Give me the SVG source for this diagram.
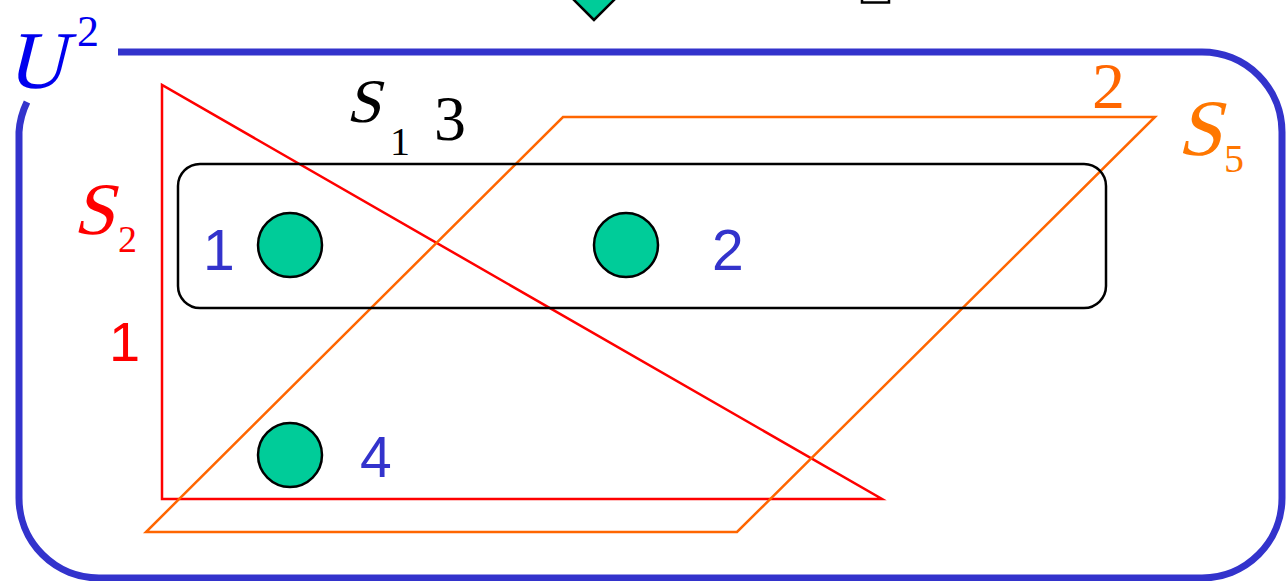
<svg xmlns="http://www.w3.org/2000/svg" width="1286" height="581" viewBox="0 0 1286 581">
<style>
.mi{font-family:"Liberation Serif","Times New Roman",serif;font-style:normal}
.rm{font-family:"Liberation Serif","Times New Roman",serif}
.num{font-family:"Liberation Sans",Arial,sans-serif;font-size:57px;fill:#3333cc}
.dot{fill:#00cc99;stroke:#000;stroke-width:2.5}
</style>
<rect width="1286" height="581" fill="#fff"/>
<g id="top-diamond"><polygon points="594,20 566,-8 594,-36 622,-8" fill="#00cc99" stroke="#000" stroke-width="2.5"/></g>
<g id="top-fragment"><path d="M862 0 V2.5 H889 V0" fill="none" stroke="#000" stroke-width="2.5"/></g>
<g id="U2">
<path d="M118 52 H1202 A80 80 0 0 1 1282 132 V498 A80 80 0 0 1 1202 578 H99 A80 80 0 0 1 19 498 V132 A80 80 0 0 1 27 102" fill="none" stroke="#3333cc" stroke-width="7"/>
<text class="mi" transform="translate(6,88) skewX(-14)" font-size="82" fill="#0000ee">U</text>
<text class="rm" x="77" y="46" font-size="44" fill="#0000ee">2</text>
</g>
<g id="S2">
<polygon points="162,85 162,499 882,499" fill="none" stroke="#ff0000" stroke-width="2.5"/>
<text class="mi" transform="translate(73,234) skewX(-14)" font-size="74" fill="#ff0000">S</text>
<text class="rm" x="118" y="252" font-size="38" fill="#ff0000">2</text>
<text x="109" y="361" font-family="Liberation Sans,Arial,sans-serif" font-size="56" fill="#ff0000">1</text>
</g>
<g id="S5">
<polygon points="563,117 1155,117 737,532 146,532" fill="none" stroke="#ff6600" stroke-width="2.5"/>
<text class="mi" transform="translate(1177,155) skewX(-14)" font-size="80" fill="#ff7700">S</text>
<text class="rm" x="1224" y="172" font-size="40" fill="#ff7700">5</text>
<text class="rm" x="1092" y="108" font-size="66" fill="#ff6600">2</text>
</g>
<g id="S1">
<rect x="178" y="164" width="928" height="144" rx="22" fill="none" stroke="#000" stroke-width="2.5"/>
<text class="mi" transform="translate(346,122) skewX(-14)" font-size="62" fill="#000">S</text>
<text class="rm" x="390" y="155" font-size="40" fill="#000">1</text>
<text class="rm" x="434" y="140" font-size="64" fill="#000">3</text>
</g>
<g id="v1"><circle class="dot" cx="290" cy="245" r="32"/><text class="num" x="203" y="270">1</text></g>
<g id="v2"><circle class="dot" cx="626" cy="245" r="32"/><text class="num" x="712" y="270">2</text></g>
<g id="v4"><circle class="dot" cx="290" cy="455" r="32"/><text class="num" x="360" y="477">4</text></g>
</svg>
